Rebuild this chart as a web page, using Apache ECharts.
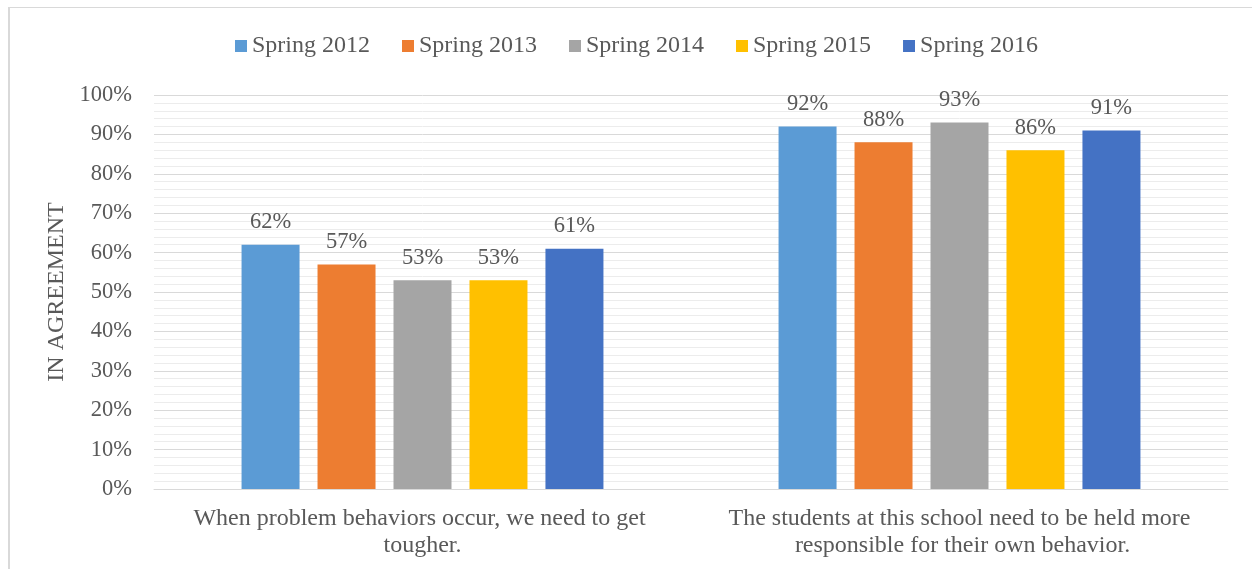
<!DOCTYPE html>
<html>
<head>
<meta charset="utf-8">
<script src="https://cdn.jsdelivr.net/npm/echarts@6/dist/echarts.min.js"></script>
<style>
html,body{margin:0;padding:0;background:#fff;}
#frame{position:absolute;left:8px;top:7px;width:1260px;height:580px;border-left:2px solid #d9d9d9;border-top:1px solid #d9d9d9;box-sizing:border-box;}
#chart{position:absolute;left:0;top:0;width:1252px;height:569px;}
</style>
</head>
<body>
<div id="frame"></div>
<div id="chart"></div>
<script>
const categories = [
  "When problem behaviors occur, we need to get tougher.",
  "The students at this school need to be held more responsible for their own behavior."
];
const seriesNames = ["Spring 2012", "Spring 2013", "Spring 2014", "Spring 2015", "Spring 2016"];
const spring2012 = [62, 92];
const spring2013 = [57, 88];
const spring2014 = [53, 93];
const spring2015 = [53, 86];
const spring2016 = [61, 91];
const colors = ["#5B9BD5", "#ED7D31", "#A5A5A5", "#FFC000", "#4472C4"];
const yTicks = [0, 10, 20, 30, 40, 50, 60, 70, 80, 90, 100];

const allValues = [spring2012, spring2013, spring2014, spring2015, spring2016];
const font = "'Liberation Serif', 'Times New Roman', serif";
const textColor = "#595959";
const fs = 22.5;
const fsBig = 24;

const chart = echarts.init(document.getElementById('chart'), null, {renderer: 'canvas'});
chart.setOption({
  backgroundColor: 'transparent',
  color: colors,
  textStyle: {fontFamily: font},
  legend: {
    top: 29,
    left: 230,
    itemWidth: 12,
    itemHeight: 12,
    itemGap: 32,
    icon: 'rect',
    textStyle: {fontFamily: font, fontSize: fsBig, color: textColor},
    data: seriesNames
  },
  grid: {left: 154, right: 24, top: 95, bottom: 80, containLabel: false},
  xAxis: {
    type: 'category',
    data: categories,
    axisLine: {show: true, lineStyle: {color: '#d9d9d9', width: 1}},
    axisTick: {show: false},
    axisLabel: {
      fontFamily: font, fontSize: fsBig, color: textColor,
      width: 462, overflow: 'break', lineHeight: 27, margin: 16, interval: 0
    }
  },
  yAxis: {
    type: 'value',
    min: yTicks[0],
    max: yTicks[yTicks.length - 1],
    interval: 10,
    name: 'IN AGREEMENT',
    nameLocation: 'middle',
    nameGap: 80,
    nameTextStyle: {fontFamily: font, fontSize: fsBig, color: textColor},
    axisLine: {show: false},
    axisTick: {show: false},
    axisLabel: {fontFamily: font, fontSize: fs, color: textColor, margin: 22, formatter: v => v + '%'},
    splitLine: {show: true, lineStyle: {color: '#d9d9d9', width: 1}},
    minorTick: {show: false, splitNumber: 5},
    minorSplitLine: {show: true, lineStyle: {color: '#ececec', width: 1}}
  },
  series: seriesNames.map((name, i) => ({
    name: name,
    type: 'bar',
    data: allValues[i],
    barWidth: '10.8%',
    barGap: '31%',
    itemStyle: {color: colors[i]},
    label: {
      show: true, position: 'top', distance: 11,
      fontFamily: font, fontSize: fs, color: textColor,
      formatter: p => p.value + '%'
    }
  }))
});
</script>
</body>
</html>
